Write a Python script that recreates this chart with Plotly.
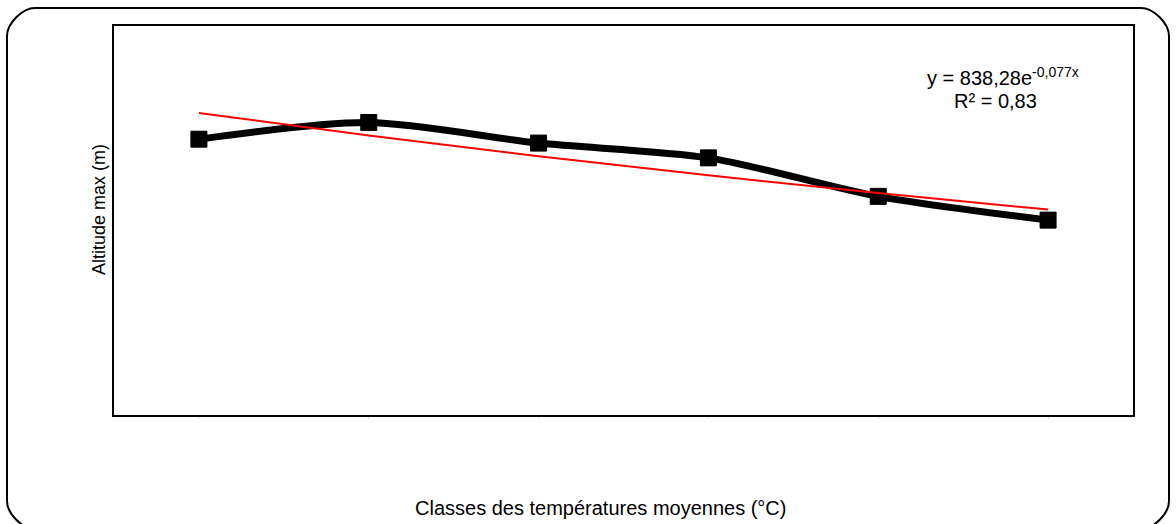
import numpy as np
import plotly.graph_objects as go

# Data
categories = ["1", "2", "3", "4", "5", "6"]
altitude_max = [709, 752, 699, 661, 562, 501]
trend_a = 838.28
trend_b = -0.077
equation_line1 = "y = 838,28e<sup>-0,077x</sup>"
equation_line2 = "R² = 0,83"

x_idx = np.arange(1, len(categories) + 1)
trend_vals = [trend_a * np.exp(trend_b * k) for k in x_idx]

W, H = 1176, 524
L, R, T, B = 114, 1133, 26, 415
pw, ph = R - L, B - T

def px(x):
    return (x - L) / pw

def py(y):
    return (B - y) / ph

fig = go.Figure()
fig.add_trace(go.Scatter(
    x=categories, y=altitude_max, mode="lines+markers",
    line=dict(color="black", width=7, shape="spline", smoothing=0.8),
    marker=dict(symbol="square", size=16, color="black",
                line=dict(color="black", width=1)),
    showlegend=False, hoverinfo="skip"))
fig.add_trace(go.Scatter(
    x=categories, y=trend_vals, mode="lines",
    line=dict(color="#ff0000", width=2),
    showlegend=False, hoverinfo="skip"))

# rounded outer frame (cubic-bezier corners, paper coords); bottom edge runs off-page
x0, x1, y0, y1, r = 7, 1169, 8, 529, 28
k = 0.45 * r
pts = [
    ("M", [(x0 + r, y0)]),
    ("L", [(x1 - r, y0)]),
    ("C", [(x1 - r + k, y0), (x1, y0 + r - k), (x1, y0 + r)]),
    ("L", [(x1, y1 - r)]),
    ("C", [(x1, y1 - r + k), (x1 - r + k, y1), (x1 - r, y1)]),
    ("L", [(x0 + r, y1)]),
    ("C", [(x0 + r - k, y1), (x0, y1 - r + k), (x0, y1 - r)]),
    ("L", [(x0, y0 + r)]),
    ("C", [(x0, y0 + r - k), (x0 + r - k, y0), (x0 + r, y0)]),
]
path = ""
for cmd, ps in pts:
    path += cmd + " " + " ".join(f"{px(a):.6f},{py(b):.6f}" for a, b in ps) + " "
path += "Z"

fig.update_layout(
    width=W, height=H,
    margin=dict(l=L, r=W - R, t=T, b=H - B),
    paper_bgcolor="white", plot_bgcolor="white",
    font=dict(family="Liberation Sans, Arial, sans-serif", size=20, color="black"),
    xaxis=dict(type="category", range=[-0.5, 5.5], showticklabels=False,
               showgrid=False, zeroline=False, showline=True, linecolor="black",
               linewidth=2, mirror=True, ticks="outside", ticklen=2,
               tickcolor="#dddddd", tickwidth=1),
    yaxis=dict(range=[0, 1000], showticklabels=False, showgrid=False,
               zeroline=False, showline=True, linecolor="black", linewidth=2,
               mirror=True, ticks=""),
    shapes=[dict(type="path", path=path, xref="paper", yref="paper",
                 line=dict(color="black", width=2), layer="below")],
    annotations=[
        dict(text=equation_line1, x=px(1003), y=py(77), xref="paper", yref="paper",
             xanchor="center", yanchor="middle",
             showarrow=False, font=dict(size=20)),
        dict(text=equation_line2, x=px(995), y=py(101), xref="paper", yref="paper",
             xanchor="center", yanchor="middle",
             showarrow=False, font=dict(size=20)),
        dict(text="Altitude max (m)", x=px(99), y=py(210), xref="paper", yref="paper",
             xanchor="center", yanchor="middle",
             showarrow=False, textangle=-90, font=dict(size=18)),
        dict(text="Classes des températures moyennes (°C)", x=px(600), y=py(508),
             xref="paper", yref="paper", xanchor="center", yanchor="middle",
             showarrow=False, font=dict(size=20)),
    ],
)

fig.write_html("out.html", config={"displayModeBar": False},
               post_script="document.body.style.margin='0';document.body.style.padding='0';")
